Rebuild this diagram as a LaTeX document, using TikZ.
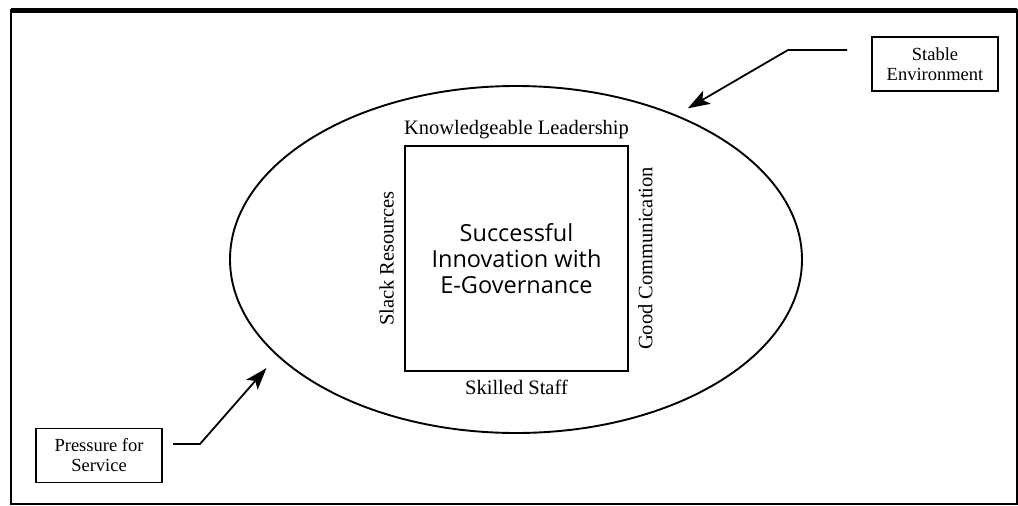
\documentclass[tikz,border=0pt]{standalone}
\usepackage{fontspec}
\setmainfont{Liberation Serif}
\newfontfamily\coresans{Open Sans}
\usetikzlibrary{arrows.meta,shapes.geometric,positioning}

\begin{document}
\begin{tikzpicture}[x=1pt, y=-1pt,
    factor/.style={font=\fontsize{20.5}{24}\selectfont, inner sep=2pt},
    force/.style={draw, line width=1.2pt, font=\fontsize{18.5}{20}\selectfont, align=center,
        minimum width=126pt, minimum height=54pt, inner sep=2pt},
    push/.style={line width=1.8pt, -{Stealth[length=22pt, width=15pt, inset=5pt]}}]
    \useasboundingbox (0,0) rectangle (1018,506);

    % Frame with heavy top rule
    \draw[line width=1.3pt] (11,10) rectangle (1017,504);
    \draw[line width=5pt] (11,10.5) -- (1017,10.5);

    % Environment ellipse and core square
    \node[draw, ellipse, line width=1.9pt, minimum width=572pt, minimum height=347pt] (env) at (516,259.5) {};
    \node[draw, line width=1.9pt, minimum width=223pt, minimum height=225pt, align=center,
        font=\coresans\fontsize{23.5}{26}\selectfont] (core) at (516.5,258.5)
        {Successful\\Innovation with\\E-Governance};

    % Factors on the four sides
    \node[factor, above=3.5pt of core] (lead) {Knowledgeable Leadership};
    \node[factor, below=5.5pt of core] (staff) {Skilled Staff};
    \node[factor, left=8pt of core, anchor=south, rotate=90] (slack) {Slack Resources};
    \node[factor, right=7pt of core, anchor=north, rotate=90] (comm) {Good Communication};

    % Outside forces
    \node[force] (stable) at (935,64) {Stable\\Environment};
    \node[force] (press) at (99,455.5) {Pressure for\\Service};

    \coordinate (stable-in) at (847,50);
    \coordinate (stable-bend) at (788,50);
    \draw[push, shorten >=13pt] (stable-in) -- (stable-bend) -- (env.42);

    \coordinate (press-in) at (173,444);
    \coordinate (press-bend) at (200,444);
    \draw[push, shorten >=16pt] (press-in) -- (press-bend) -- (env.202);
\end{tikzpicture}
\end{document}
